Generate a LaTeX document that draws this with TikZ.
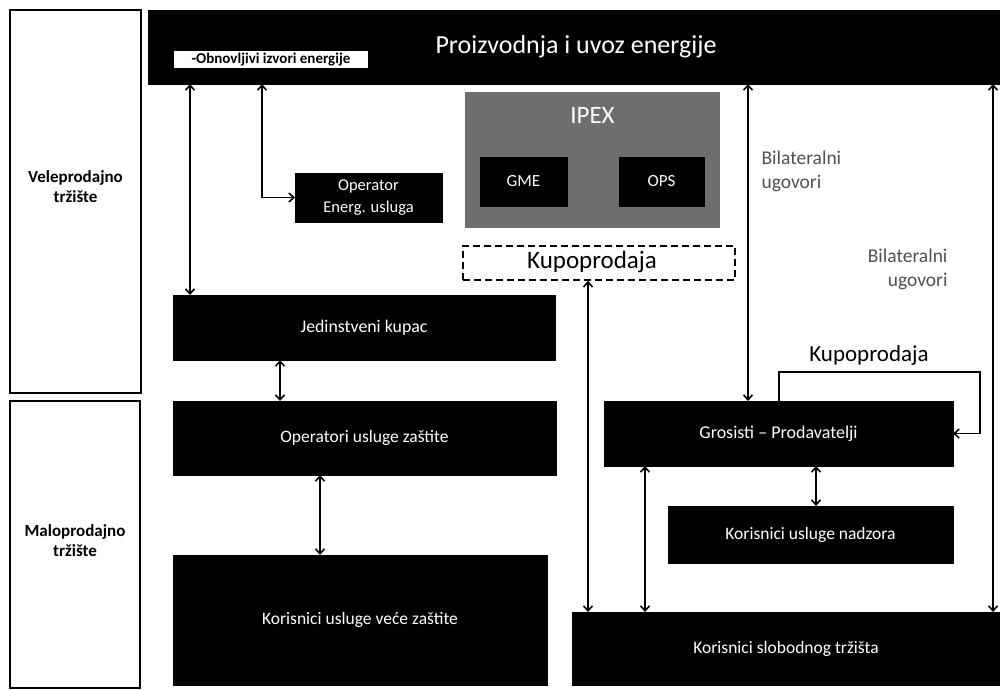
\documentclass[tikz,border=0pt]{standalone}
\usepackage{fontspec}
\setmainfont{Carlito}
\usetikzlibrary{arrows.meta}
\definecolor{ipexgray}{HTML}{6E6E6E}
\definecolor{labgray}{HTML}{505050}
\newcommand{\fsz}[1]{\fontsize{#1}{#1}\selectfont}
\tikzset{
  blk/.style={fill=black, draw=black, text=white, inner sep=0pt, outer sep=0pt, align=center},
  side/.style={draw=black, line width=1.6pt, fill=white, inner sep=0pt, outer sep=0pt},
  sidetext/.style={align=center, font=\bfseries\fontsize{17}{20}\selectfont},
  tip/.tip={Straight Barb[length=5pt,width=9pt,line width=1.6pt]},
  arr/.style={line width=1.7pt, tip-tip},
  arrend/.style={line width=1.7pt, -tip},
  lab/.style={text=labgray, font=\fontsize{19.5}{24}\selectfont},
}
\begin{document}
\begin{tikzpicture}[x=1pt,y=-1pt]
\useasboundingbox[fill=white] (0,0) rectangle (1000,689);
% side panels
\node[side, minimum width=131pt, minimum height=383pt] (vele) at (75.5,201.5) {};
\node[sidetext] (veletxt) at (75.5,187) {Veleprodajno\\tržište};
\node[side, minimum width=130pt, minimum height=287pt] (malo) at (75,544.5) {};
\node[sidetext] (malotxt) at (75,541) {Maloprodajno\\tržište};
% top bar
\node[blk, minimum width=852pt, minimum height=74pt] (top) at (574,47) {};
\node[text=white, font=\fsz{26}] (toptxt) at (576,47) {Proizvodnja i uvoz energije};
\node[fill=white, inner sep=0pt, minimum width=194pt, minimum height=17pt, font=\bfseries\fsz{15}] (obn) at (271,59.5) {-Obnovljivi izvori energije};
% middle
\node[blk, minimum width=147pt, minimum height=49pt, font=\fontsize{16.5}{22}\selectfont] (oper) at (368.5,197.5) {Operator\\Energ. usluga};
\node[fill=ipexgray, inner sep=0pt, minimum width=255pt, minimum height=136pt] (ipex) at (592.5,160) {};
\node[text=white, font=\fsz{25}] (ipextxt) at (592.5,115) {IPEX};
\node[blk, minimum width=87pt, minimum height=49pt, font=\fsz{17}] (gme) at (523.5,181.5) {GME};
\node[blk, minimum width=85pt, minimum height=49pt, font=\fsz{17}] (ops) at (661.5,181.5) {OPS};
\node[draw=black, dash pattern=on 7pt off 4pt, line width=1.6pt, inner sep=0pt, minimum width=272pt, minimum height=34pt] (kup) at (599,263) {};
\node[font=\fsz{25}] (kuptxt) at (592,262) {Kupoprodaja};
% left column
\node[blk, minimum width=382pt, minimum height=65pt, font=\fsz{17.8}] (jed) at (364,327.5) {Jedinstveni kupac};
\node[blk, minimum width=383pt, minimum height=74pt, font=\fsz{17.5}] (opz) at (364.5,438) {Operatori usluge zaštite};
\node[blk, minimum width=374pt, minimum height=130pt, font=\fsz{17.5}] (kvz) at (360,620) {Korisnici usluge veće zaštite};
% right column
\node[blk, minimum width=349pt, minimum height=65pt, font=\fsz{18}] (gro) at (778.5,433.5) {Grosisti – Prodavatelji};
\node[blk, minimum width=285pt, minimum height=57pt, font=\fsz{17.5}] (nad) at (810.5,534.5) {Korisnici usluge nadzora};
\node[blk, minimum width=428pt, minimum height=73pt, font=\fsz{17.5}] (slo) at (786,648.5) {Korisnici slobodnog tržišta};
% labels
\node[lab, align=left, anchor=west] (bil1) at (758,171) {Bilateralni\\ugovori};
\node[lab, align=right, anchor=east] (bil2) at (951,269) {Bilateralni\\ugovori};
\node[font=\fsz{23}] (kup2) at (869,355) {Kupoprodaja};
% column coordinates
\coordinate (xA) at (190,0);
\coordinate (xB) at (262,0);
\coordinate (xC) at (280,0);
\coordinate (xD) at (320,0);
\coordinate (xE) at (588,0);
\coordinate (xF) at (645,0);
\coordinate (xG) at (748,0);
\coordinate (xH) at (816,0);
\coordinate (xI) at (993,0);
\coordinate (xJ) at (779,0);
\coordinate (xK) at (980,0);
\coordinate (yL) at (0,372);
% connectors
\draw[arr] (top.south -| xA) -- (jed.north -| xA);
\draw[arr] (top.south -| xB) |- (oper.west);
\draw[arr] (jed.south -| xC) -- (opz.north -| xC);
\draw[arr] (opz.south -| xD) -- (kvz.north -| xD);
\draw[arr] (top.south -| xG) -- (gro.north -| xG);
\draw[arr] (top.south -| xI) -- (slo.north -| xI);
\draw[arr] (kup.south -| xE) -- (slo.north -| xE);
\draw[arr] (gro.south -| xF) -- (slo.north -| xF);
\draw[arr] (gro.south -| xH) -- (nad.north -| xH);
\draw[arrend] (gro.north -| xJ) -- (xJ |- yL) -- (xK |- yL) |- (gro.east);
\end{tikzpicture}
\end{document}
